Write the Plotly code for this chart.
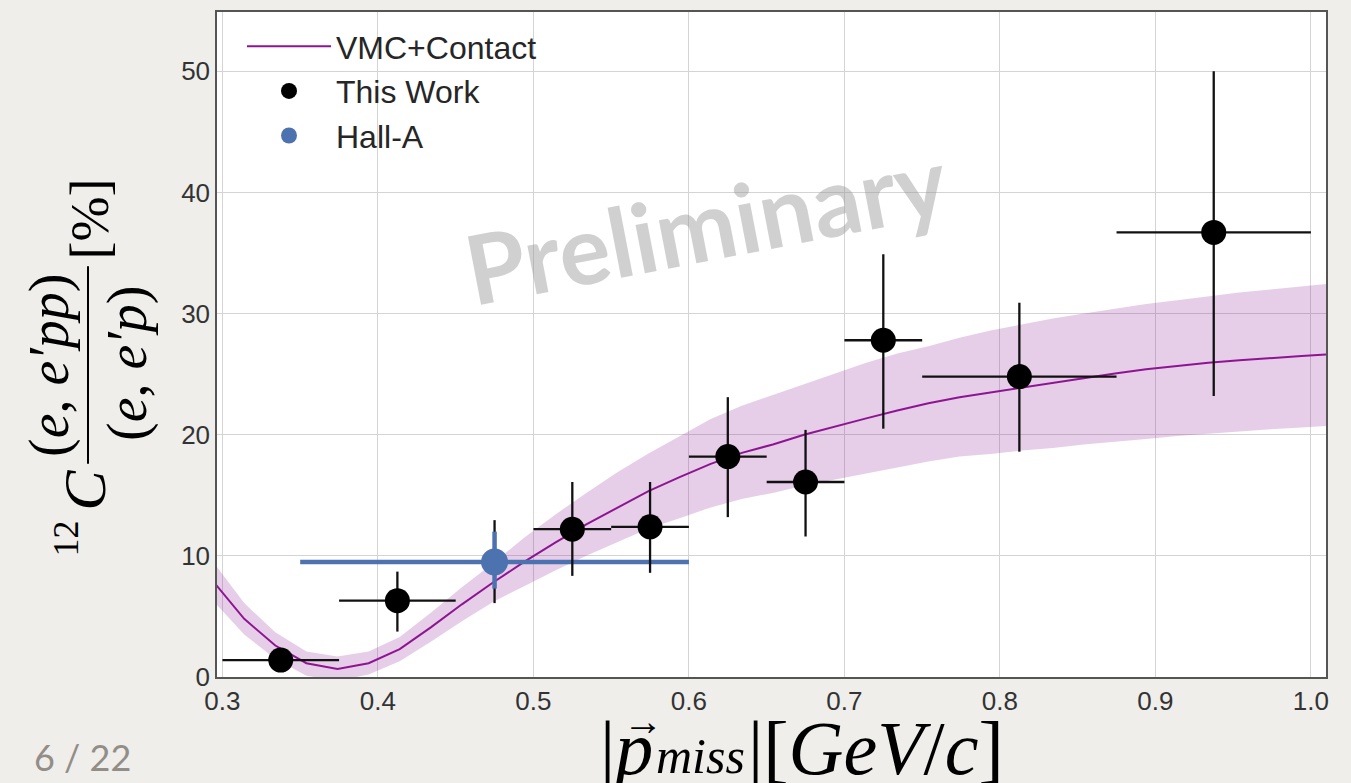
import plotly.graph_objects as go

# ---------------- data ----------------
# VMC+Contact calculation (central value and band edges)
theory_x = [0.294, 0.314, 0.334, 0.354, 0.374, 0.394, 0.414, 0.434, 0.454, 0.474,
            0.494, 0.514, 0.534, 0.554, 0.574, 0.594, 0.614, 0.634, 0.654, 0.674,
            0.694, 0.714, 0.734, 0.754, 0.774, 0.794, 0.814, 0.834, 0.854, 0.874,
            0.894, 0.914, 0.934, 0.954, 0.974, 0.994, 1.014]
theory_y = [7.9, 4.8, 2.6, 1.14, 0.67, 1.14, 2.3, 4.1, 6.0, 7.8,
            9.5, 11.1, 12.6, 14.0, 15.35, 16.5, 17.6, 18.5, 19.2, 20.0,
            20.7, 21.35, 22.0, 22.6, 23.1, 23.5, 23.9, 24.3, 24.7, 25.05,
            25.4, 25.7, 25.95, 26.15, 26.35, 26.5, 26.65]
theory_hi = [9.5, 6.1, 3.7, 2.1, 1.7, 2.1, 3.3, 5.3, 7.4, 9.4,
             11.5, 13.4, 15.2, 16.9, 18.45, 19.9, 21.3, 22.4, 23.3, 24.2,
             25.1, 25.95, 26.7, 27.3, 28.0, 28.6, 29.1, 29.6, 30.0, 30.4,
             30.8, 31.1, 31.45, 31.75, 32.0, 32.25, 32.5]
theory_lo = [6.3, 3.5, 1.5, 0.1, -0.3, 0.2, 1.3, 2.9, 4.6, 6.2,
             7.5, 8.8, 10.0, 11.1, 12.25, 13.1, 14.0, 14.7, 15.2, 15.8,
             16.3, 16.75, 17.3, 17.8, 18.2, 18.4, 18.7, 18.9, 19.2, 19.4,
             19.65, 19.9, 20.1, 20.3, 20.45, 20.6, 20.75]

# This Work
work_x = [0.3375, 0.4125, 0.525, 0.575, 0.625, 0.675, 0.725, 0.8125, 0.9375]
work_y = [1.4, 6.3, 12.2, 12.4, 18.2, 16.1, 27.8, 24.8, 36.7]
work_xlo = [0.3, 0.375, 0.5, 0.55, 0.6, 0.65, 0.7, 0.75, 0.875]
work_xhi = [0.375, 0.45, 0.55, 0.6, 0.65, 0.7, 0.75, 0.875, 1.0]
work_ylo = [0.8, 3.75, 8.35, 8.6, 13.2, 11.6, 20.5, 18.6, 23.2]
work_yhi = [2.0, 8.7, 16.1, 16.1, 23.1, 20.4, 34.9, 30.9, 50.0]

# Hall-A
halla_x = [0.475]
halla_y = [9.5]
halla_xlo = [0.35]
halla_xhi = [0.6]
halla_stat_lo = [7.3]
halla_stat_hi = [12.0]
halla_tot_lo = [6.1]
halla_tot_hi = [12.95]

x_ticks = [0.3, 0.4, 0.5, 0.6, 0.7, 0.8, 0.9, 1.0]
x_tick_text = ["0.3", "0.4", "0.5", "0.6", "0.7", "0.8", "0.9", "1.0"]
y_ticks = [0, 10, 20, 30, 40, 50]
y_tick_text = ["0", "10", "20", "30", "40", "50"]

# ---------------- layout helpers ----------------
W, H = 1351, 783
ML, MR, MT, MB = 217, 25, 10, 106
PW = W - ML - MR
PH = H - MT - MB


def px(x):
    return (x - ML) / PW


def py(y):
    return (H - MB - y) / PH


def plus(a, b):
    return [u - v for u, v in zip(a, b)]


PURPLE = "#8e1592"
BLUE = "#4c72b0"
BLACK = "#111111"

fig = go.Figure()

# band
fig.add_trace(go.Scatter(x=theory_x, y=theory_hi, mode="lines", line=dict(width=0),
                         showlegend=False, hoverinfo="skip"))
fig.add_trace(go.Scatter(x=theory_x, y=theory_lo, mode="lines", line=dict(width=0),
                         fill="tonexty", fillcolor="rgba(140,30,150,0.22)",
                         showlegend=False, hoverinfo="skip"))
# central curve
fig.add_trace(go.Scatter(x=theory_x, y=theory_y, mode="lines", name="VMC+Contact",
                         line=dict(color=PURPLE, width=2), legendrank=1))

# Hall-A total error (black thin)
fig.add_trace(go.Scatter(
    x=halla_x, y=halla_y, mode="markers", marker=dict(size=1, color="rgba(0,0,0,0)"),
    error_y=dict(type="data", symmetric=False,
                 array=plus(halla_tot_hi, halla_y), arrayminus=plus(halla_y, halla_tot_lo),
                 color=BLACK, thickness=2.3, width=0),
    showlegend=False, hoverinfo="skip"))

# Hall-A
fig.add_trace(go.Scatter(
    x=halla_x, y=halla_y, mode="markers", name="Hall-A",
    marker=dict(size=27, color=BLUE),
    error_x=dict(type="data", symmetric=False,
                 array=plus(halla_xhi, halla_x), arrayminus=plus(halla_x, halla_xlo),
                 color=BLUE, thickness=4.5, width=0),
    error_y=dict(type="data", symmetric=False,
                 array=plus(halla_stat_hi, halla_y), arrayminus=plus(halla_y, halla_stat_lo),
                 color=BLUE, thickness=4.5, width=0),
    legendrank=3))

# This Work
fig.add_trace(go.Scatter(
    x=work_x, y=work_y, mode="markers", name="This Work",
    marker=dict(size=25, color="black"),
    error_x=dict(type="data", symmetric=False,
                 array=plus(work_xhi, work_x), arrayminus=plus(work_x, work_xlo),
                 color=BLACK, thickness=2.3, width=0),
    error_y=dict(type="data", symmetric=False,
                 array=plus(work_yhi, work_y), arrayminus=plus(work_y, work_ylo),
                 color=BLACK, thickness=2.3, width=0),
    legendrank=2))

tick_font = dict(family="Liberation Sans, Arial, sans-serif", size=26, color="#333333")

fig.update_layout(
    width=W, height=H,
    margin=dict(l=ML, r=MR, t=MT, b=MB, pad=0),
    paper_bgcolor="#efeeeb",
    plot_bgcolor="white",
    showlegend=True,
    legend=dict(x=px(242), y=py(17), xanchor="left", yanchor="top",
                traceorder="normal",
                bgcolor="rgba(0,0,0,0)", borderwidth=0,
                font=dict(family="Liberation Sans, Arial, sans-serif", size=32, color="#262626"),
                itemwidth=84, tracegroupgap=0),
    xaxis=dict(range=[0.2965, 1.0097], tickvals=x_ticks, ticktext=x_tick_text,
               showgrid=True, gridcolor="#d4d4d4", gridwidth=1,
               showline=True, linecolor="#555555", linewidth=1.5, mirror=True,
               ticks="", zeroline=False, tickfont=tick_font),
    yaxis=dict(range=[0, 54.9], tickvals=y_ticks, ticktext=y_tick_text,
               showgrid=True, gridcolor="#d4d4d4", gridwidth=1,
               showline=True, linecolor="#555555", linewidth=1.5, mirror=True,
               ticks="", zeroline=False, tickfont=tick_font),
)

serif = "Liberation Serif, Times New Roman, serif"
C = dict(xref="paper", yref="paper", showarrow=False, xanchor="center", yanchor="middle")
ann = []
# watermark
ann.append(dict(x=px(705), y=py(222), **C,
                text="<b>Preliminary</b>", textangle=-10.9,
                font=dict(family="Lato, Open Sans, sans-serif", size=96,
                          color="rgba(150,150,150,0.45)")))
# y axis title pieces
ann.append(dict(x=px(50), y=py(365), **C,
                text="(<i>e</i>, <i>e′pp</i>)", textangle=-90,
                font=dict(family=serif, size=56, color="black")))
ann.append(dict(x=px(128), y=py(363), **C,
                text="(<i>e</i>, <i>e′p</i>)", textangle=-90,
                font=dict(family=serif, size=56, color="black")))
ann.append(dict(x=px(85), y=py(490), **C,
                text="<i>C</i>", textangle=-90,
                font=dict(family=serif, size=60, color="black")))
ann.append(dict(x=px(66), y=py(538), **C,
                text="12", textangle=-90,
                font=dict(family=serif, size=36, color="black")))
ann.append(dict(x=px(90), y=py(218), **C,
                text="[%]", textangle=-90,
                font=dict(family=serif, size=54, color="black")))
# x axis title, built from pieces
XT = dict(xref="paper", yref="paper", showarrow=False, yanchor="middle")
ann.append(dict(x=px(655), y=py(748), xanchor="right", **XT,
                text="|<i>p</i>", font=dict(family=serif, size=76, color="black")))
ann.append(dict(x=px(654), y=py(756), xanchor="left", **XT,
                text="<i>miss</i>", font=dict(family=serif, size=50, color="black")))
ann.append(dict(x=px(746), y=py(748), xanchor="left", **XT,
                text="|[<i>GeV</i>/<i>c</i>]", font=dict(family=serif, size=76, color="black")))
ann.append(dict(x=px(643), y=py(722), xanchor="center", **XT,
                text="→", font=dict(family=serif, size=40, color="black")))
# page number
ann.append(dict(x=px(82), y=py(757), **C,
                text="6 / 22",
                font=dict(family="Lato, Noto Sans, sans-serif", size=36, color="#938d87")))
fig.update_layout(annotations=ann)

fig.add_shape(type="line", xref="paper", yref="paper",
              x0=px(88), x1=px(88), y0=py(265), y1=py(463),
              line=dict(color="black", width=2))

fig.write_html("out.html", config={"displayModeBar": False},
               post_script="document.body.style.margin='0';document.body.style.background='#efeeeb';")
